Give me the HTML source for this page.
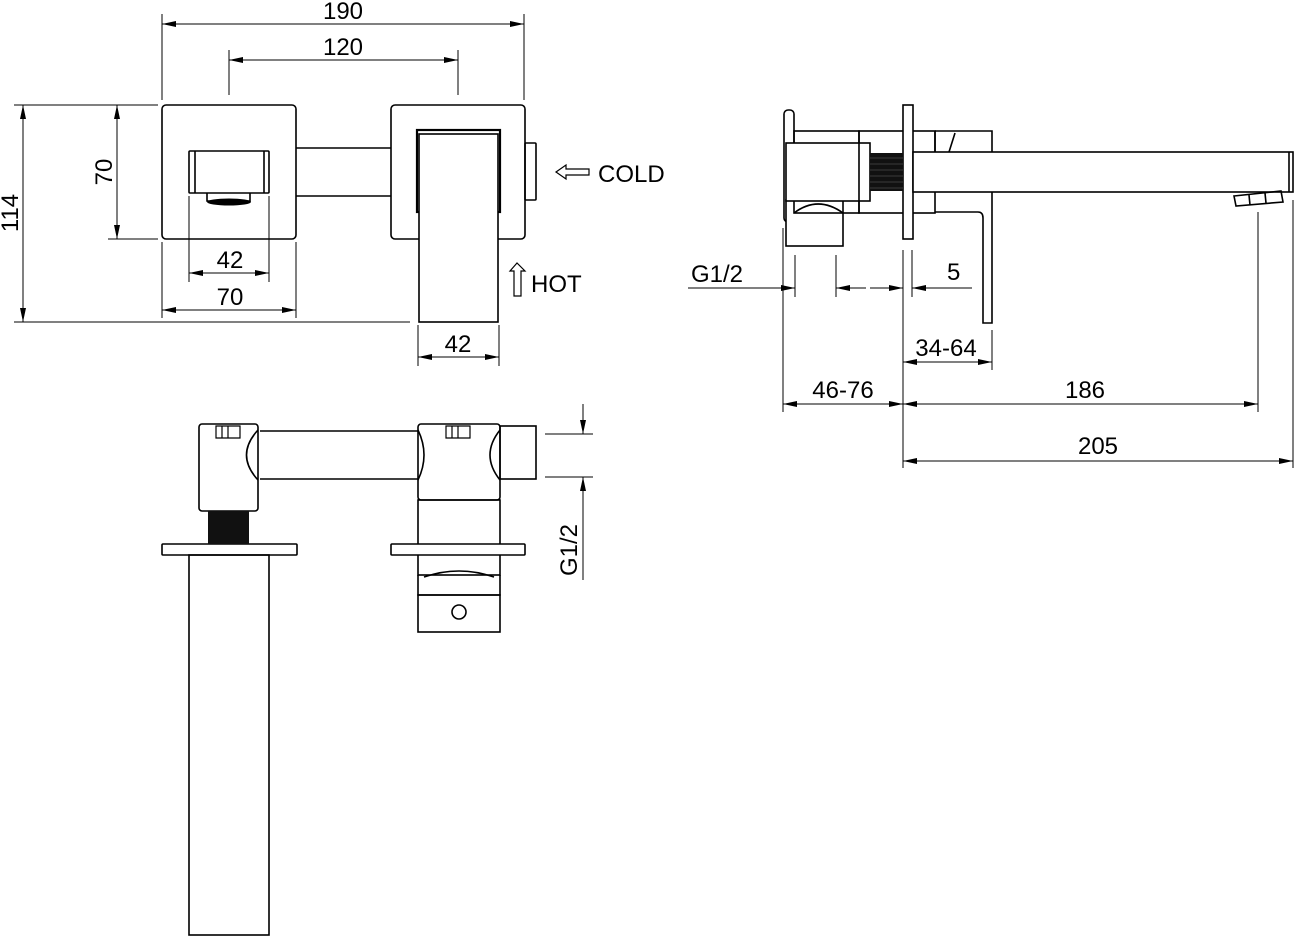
<!DOCTYPE html>
<html><head><meta charset="utf-8"><style>
html,body{margin:0;padding:0;background:#fff;}
svg{display:block;}
text{font-family:"Liberation Sans",Arial,sans-serif;font-size:24px;fill:#000;}
</style></head><body>
<svg width="1295" height="937" viewBox="0 0 1295 937" xmlns="http://www.w3.org/2000/svg">
<defs>
<marker id="a" viewBox="0 0 14 6" refX="14" refY="3" markerWidth="14" markerHeight="6" markerUnits="userSpaceOnUse" orient="auto-start-reverse"><path d="M0,0L14,3L0,6z" fill="#000"/></marker>
</defs>
<g fill="none" stroke="#000" stroke-width="1">
<line x1="162" y1="14" x2="162" y2="100"/><line x1="524" y1="14" x2="524" y2="100"/>
<line x1="162" y1="24" x2="524" y2="24" marker-start="url(#a)" marker-end="url(#a)"/>
<line x1="229" y1="50" x2="229" y2="95"/><line x1="458" y1="50" x2="458" y2="95"/>
<line x1="229" y1="60" x2="458" y2="60" marker-start="url(#a)" marker-end="url(#a)"/>
<line x1="14" y1="105" x2="158" y2="105"/><line x1="14" y1="322" x2="410" y2="322"/>
<line x1="23" y1="105" x2="23" y2="322" marker-start="url(#a)" marker-end="url(#a)"/>
<line x1="108" y1="239" x2="158" y2="239"/>
<line x1="117" y1="105" x2="117" y2="239" marker-start="url(#a)" marker-end="url(#a)"/>
<line x1="189" y1="196" x2="189" y2="282"/><line x1="269" y1="196" x2="269" y2="282"/>
<line x1="189" y1="273" x2="269" y2="273" marker-start="url(#a)" marker-end="url(#a)"/>
<line x1="162" y1="242" x2="162" y2="318"/><line x1="296" y1="242" x2="296" y2="318"/>
<line x1="162" y1="310" x2="296" y2="310" marker-start="url(#a)" marker-end="url(#a)"/>
<line x1="418" y1="325" x2="418" y2="366"/><line x1="499" y1="325" x2="499" y2="366"/>
<line x1="418" y1="357" x2="499" y2="357" marker-start="url(#a)" marker-end="url(#a)"/>
</g>
<g fill="none" stroke="#000" stroke-width="1.6">
<rect x="162" y="105" width="134" height="134" rx="4"/>
<rect x="391" y="105" width="134" height="134" rx="4"/>
<line x1="296" y1="148" x2="391" y2="148"/><line x1="296" y1="196" x2="391" y2="196"/>
<rect x="189" y="151" width="80" height="42" rx="1"/>
<line x1="195" y1="151" x2="195" y2="193"/><line x1="264" y1="151" x2="264" y2="193"/>
<path d="M207,193V201H250V193"/>
<rect x="417" y="130" width="83" height="82" fill="#fff" stroke-width="2.2"/>
<rect x="419" y="134" width="79" height="188" fill="#fff"/>
<rect x="525" y="143" width="11" height="57" rx="1"/>
<path d="M556,172L566,165V169H589V175H566V179Z" stroke-width="1.2"/>
<path d="M517,263L510,271H514V296H521V271H525Z" stroke-width="1.2"/>
</g>
<ellipse cx="229" cy="202" rx="22" ry="3.5" fill="#000"/>
<text x="343" y="19" text-anchor="middle">190</text>
<text x="343" y="55" text-anchor="middle">120</text>
<text x="230" y="268" text-anchor="middle">42</text>
<text x="230" y="305" text-anchor="middle">70</text>
<text x="458" y="352" text-anchor="middle">42</text>
<text transform="translate(18,213) rotate(-90)" text-anchor="middle">114</text>
<text transform="translate(112,172) rotate(-90)" text-anchor="middle">70</text>
<text x="598" y="182" font-size="26">COLD</text>
<text x="531" y="292" font-size="26">HOT</text>

<g fill="none" stroke="#000" stroke-width="1.6">
<rect x="784" y="110" width="10" height="112" rx="4"/>
<rect x="786" y="200" width="57" height="46" fill="#fff"/>
<path d="M794,213Q818,195 843,213"/>
<rect x="794" y="131" width="65" height="82"/>
<rect x="786" y="143" width="84" height="58" fill="#fff"/>
<rect x="859" y="131" width="76" height="82"/>
<rect x="903" y="105" width="10" height="134" fill="#fff"/>
<rect x="913" y="152" width="380" height="40" fill="#fff"/>
<line x1="1289" y1="152" x2="1289" y2="192"/>
<path d="M935,131H992V152M935,131V152M949,152L955,133"/>
<path d="M935,212H978Q983,212 983,218V323H992V192"/>
<path d="M1234,196L1281,191L1283,202L1236,206Z"/>
<line x1="1249" y1="195" x2="1250" y2="205"/><line x1="1265" y1="193" x2="1266" y2="203"/>
</g>
<rect x="870" y="153" width="33" height="38" fill="#111"/>
<g stroke="#666" stroke-width="0.6">
<line x1="870" y1="158" x2="903" y2="158"/><line x1="870" y1="164" x2="903" y2="164"/><line x1="870" y1="170" x2="903" y2="170"/><line x1="870" y1="176" x2="903" y2="176"/><line x1="870" y1="182" x2="903" y2="182"/><line x1="870" y1="188" x2="903" y2="188"/>
</g>
<g fill="none" stroke="#000" stroke-width="1">
<line x1="783" y1="228" x2="783" y2="412"/><line x1="795" y1="255" x2="795" y2="297"/>
<line x1="836" y1="255" x2="836" y2="297"/>
<line x1="903" y1="250" x2="903" y2="468"/><line x1="912" y1="250" x2="912" y2="297"/>
<line x1="688" y1="288" x2="795" y2="288" marker-end="url(#a)"/>
<line x1="866" y1="288" x2="836" y2="288" marker-end="url(#a)"/>
<line x1="870" y1="288" x2="903" y2="288" marker-end="url(#a)"/>
<line x1="972" y1="288" x2="912" y2="288" marker-end="url(#a)"/>
<line x1="992" y1="330" x2="992" y2="370"/>
<line x1="903" y1="362" x2="992" y2="362" marker-start="url(#a)" marker-end="url(#a)"/>
<line x1="783" y1="404" x2="903" y2="404" marker-start="url(#a)" marker-end="url(#a)"/>
<line x1="1258" y1="212" x2="1258" y2="412"/>
<line x1="903" y1="404" x2="1258" y2="404" marker-start="url(#a)" marker-end="url(#a)"/>
<line x1="1293" y1="200" x2="1293" y2="468"/>
<line x1="903" y1="461" x2="1293" y2="461" marker-start="url(#a)" marker-end="url(#a)"/>
</g>
<text x="691" y="282">G1/2</text>
<text x="947" y="280" font-size="29">5</text>
<text x="946" y="356" text-anchor="middle">34-64</text>
<text x="843" y="398" text-anchor="middle">46-76</text>
<text x="1085" y="398" text-anchor="middle">186</text>
<text x="1098" y="454" text-anchor="middle">205</text>

<g fill="none" stroke="#000" stroke-width="1.6">
<rect x="199" y="424" width="59" height="87" rx="3"/>
<line x1="260" y1="431" x2="418" y2="431"/><line x1="260" y1="479" x2="418" y2="479"/>
<path d="M258,430Q235,455 258,480"/>
<path d="M418,430Q430,455 418,480"/>
<rect x="418" y="424" width="82" height="76" rx="3"/>
<path d="M500,430Q480,455 500,480"/>
<rect x="500" y="426" width="36" height="53"/>
<rect x="418" y="500" width="82" height="75"/>
<rect x="162" y="544" width="135" height="11" rx="1" fill="#fff"/>
<rect x="391" y="544" width="134" height="11" rx="1" fill="#fff"/>
<rect x="189" y="555" width="80" height="380"/>
<path d="M418,575V595H500V575M424,577Q459,565 494,577"/>
<rect x="418" y="595" width="82" height="37"/>
<circle cx="459" cy="612" r="7"/>
<path d="M216,426h24v12h-24z M222,426v12 M228,426v12" stroke-width="1.2"/>
<path d="M446,426h24v12h-24z M452,426v12 M458,426v12" stroke-width="1.2"/>
</g>
<rect x="208" y="511" width="41" height="33" fill="#111"/>
<g fill="none" stroke="#000" stroke-width="1">
<line x1="545" y1="434" x2="593" y2="434"/><line x1="545" y1="477" x2="593" y2="477"/>
<line x1="583" y1="404" x2="583" y2="434" marker-end="url(#a)"/>
<line x1="583" y1="580" x2="583" y2="477" marker-end="url(#a)"/>
</g>
<text transform="translate(577,550) rotate(-90)" text-anchor="middle">G1/2</text>
</svg>
</body></html>
